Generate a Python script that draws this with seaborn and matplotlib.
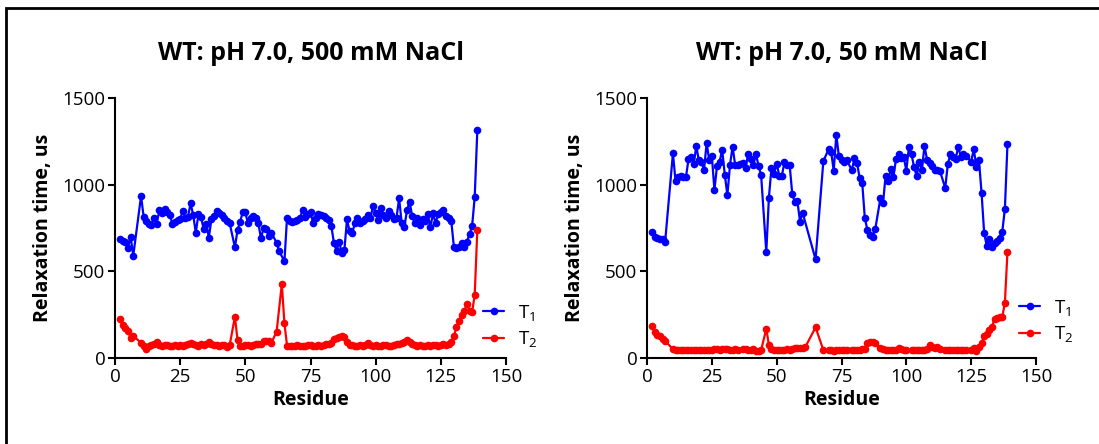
import numpy as np
import pandas as pd
import matplotlib
matplotlib.use("Agg")
import matplotlib.pyplot as plt
from matplotlib.patches import Rectangle
import seaborn as sns

nan = np.nan

# Residue numbers (8 and 9 have no data)
residues = [2, 3, 4, 5, 6, 7] + list(range(10, 140))

# 500 mM NaCl
t1_500 = [687, 677, 670, 636, 700, 590,
          935, 813, 788, 775, 769, 808, 775, 852, 837, 860,
          845, 827, 775, 787, 795, 800, 850, 805, 815, 892,
          825, 723, 830, 815, 742, 775, 695, 800, 820, 850,
          835, 825, 806, 790, 777, nan, 638, 738, 787, 840,
          840, 777, 810, 818, 810, 777, 690, 750, 742, 705,
          723, nan, 665, 616, nan, 558, 810, 790, 785, 790,
          795, 810, 854, 815, 830, 845, 777, 810, 829, 825,
          820, 810, 798, 761, 662, 617, 671, 608, 623, 800,
          730, 720, 777, 808, 777, 790, 800, 823, 810, 877,
          835, 798, 865, 823, 805, 848, 823, 800, 810, 921,
          777, 754, 852, 902, 820, 777, 810, 765, 800, 790,
          829, 754, 835, 777, 831, 840, 856, 818, 810, 791,
          642, 636, 640, 665, 638, 671, 715, 761, 930, 1315]
t2_500 = [223, 191, 175, 156, 113, 127,
          88, 71, 52, 68, 75, 80, 94, 75, 72, 76,
          75, 70, 72, 73, 70, 74, 72, 76, 78, 84,
          80, 76, 72, 78, 74, 82, 92, 78, 74, 76,
          72, 75, 73, 64, 75, nan, 238, 104, 72, 70,
          74, 75, 72, 76, 78, 80, 82, 98, 100, 96,
          88, nan, 152, nan, 427, 200, 72, 68, 70, 72,
          74, 72, 70, 72, 75, 73, 70, 72, 74, 72,
          75, 78, 80, 85, 108, 118, 123, 125, 119, 94,
          76, 74, 72, 70, 74, 72, 75, 84, 76, 72,
          74, 72, 70, 75, 73, 72, 70, 74, 78, 80,
          84, 92, 104, 92, 80, 75, 72, 74, 72, 70,
          74, 72, 75, 73, 72, 74, 78, 75, 81, 95,
          125, 180, 212, 250, 270, 313, 270, 265, 365, 740]

# 50 mM NaCl
t1_50 = [727, 698, 692, 688, 684, 672,
         1181, 1021, 1046, 1048, 1046, 1042, 1146, 1162, 1117, 1223,
         1140, 1130, 1085, 1242, 1140, 1165, 969, 1108, 1133, 1200,
         1056, 940, 1113, 1219, 1113, 1115, 1118, 1127, 1094, 1177,
         1146, 1113, 1177, 1110, 1056, nan, 610, 925, 1098, 1063,
         1121, 1052, 1052, 1129, 1115, 1115, 948, 898, 904, 787,
         838, nan, nan, nan, nan, 569, nan, nan, 1135, nan,
         1204, 1190, 1081, 1288, 1163, 1144, 1131, 1140, nan, 1085,
         1152, 1127, 1037, 1008, 806, 738, 710, 700, 742, nan,
         921, 892, 1050, 1023, 1088, 1042, 1146, 1175, 1152, 1158,
         1081, 1219, 1175, 1100, 1050, 1133, 1085, 1223, 1144, 1125,
         1106, 1085, 1085, 1077, nan, 981, 1119, 1175, 1158, 1146,
         1219, 1161, 1175, 1168, nan, 1133, 1204, 1104, 1142, 954,
         723, 646, 685, 642, 662, 677, 693, 729, 860, 1235]
t2_50 = [185, 148, 135, 127, 110, 100,
         50, 44, 44, 46, 48, 45, 47, 45, 46, 47,
         45, 44, 46, 45, 48, 47, 52, 50, 48, 52,
         53, 52, 46, 48, 50, 49, nan, 52, 50, 48,
         45, 50, 40, 38, 45, nan, 169, 75, 50, 46,
         45, 48, 46, 47, 50, 48, 52, 55, 58, 60,
         58, 62, nan, nan, nan, 177, nan, nan, 46, nan,
         44, 45, 43, 46, 45, 44, 46, 44, nan, 46,
         47, 48, 46, 50, 52, 85, 95, 95, 85, nan,
         56, 50, 48, 46, 47, 45, 48, 58, 50, 46,
         45, nan, 47, 44, 46, 45, 44, 48, 50, 75,
         62, 55, 62, 52, nan, 48, 46, 45, 47, 44,
         46, 45, 47, 44, nan, 46, 56, 42, 62, 85,
         127, 137, 160, 181, 223, 229, 235, 238, 319, 613]

titles = ["WT: pH 7.0, 500 mM NaCl", "WT: pH 7.0, 50 mM NaCl"]
series_labels = ["T$_1$", "T$_2$"]
colors = ["#0000FF", "#FF0000"]
x_ticks = [0, 25, 50, 75, 100, 125, 150]
y_ticks = [0, 500, 1000, 1500]

sns.set_style("ticks")
plt.rcParams["font.family"] = ["Open Sans", "DejaVu Sans"]
plt.rcParams["mathtext.default"] = "regular"
for key in ("text.color", "axes.labelcolor", "xtick.color", "ytick.color"):
    plt.rcParams[key] = "black"


def long_frame(t1, t2):
    frames = []
    for label, vals in zip(series_labels, (t1, t2)):
        frames.append(pd.DataFrame({"Residue": residues, "Time": vals, "Series": label}))
    return pd.concat(frames, ignore_index=True).dropna()


W, H = 1099, 444
fig = plt.figure(figsize=(W / 100, H / 100), dpi=100)

panels = [
    (long_frame(t1_500, t2_500), (115, 506), (0.941, 0.123)),
    (long_frame(t1_50, t2_50), (647, 1036), (0.956, 0.142)),
]

for i, (df, (x0, x1), leg_anchor) in enumerate(panels):
    ax = fig.add_axes([x0 / W, 1 - 358 / H, (x1 - x0) / W, 260 / H])
    sns.lineplot(data=df, x="Residue", y="Time", hue="Series",
                 palette=colors, hue_order=series_labels,
                 marker="o", markersize=5.5, markeredgewidth=0,
                 linewidth=1.6, estimator=None, sort=True, ax=ax)
    ax.set_xlim(0, 150)
    ax.set_ylim(0, 1500)
    ax.set_xticks(x_ticks)
    ax.set_yticks(y_ticks)
    sns.despine(ax=ax)
    for sp in ("left", "bottom"):
        ax.spines[sp].set_linewidth(1.5)
        ax.spines[sp].set_color("black")
    ax.tick_params(axis="both", length=5, width=1.5, color="black",
                   labelcolor="black", labelsize=13.5, pad=2)
    ax.set_xlabel("Residue", fontsize=14, fontweight="bold", labelpad=3)
    ax.set_ylabel("Relaxation time, us", fontsize=14, fontweight="bold", labelpad=7)
    ax.set_title(titles[i], fontsize=18, fontweight="bold", pad=27)
    ax.legend(loc="center left", bbox_to_anchor=leg_anchor, frameon=False,
              fontsize=13.5, handlelength=1.15, handletextpad=0.7,
              labelspacing=0.35, borderpad=0, borderaxespad=0)

# outer frame
fig.add_artist(Rectangle((6 / W, -0.5), 2.0, 0.5 + (1 - 8 / H), fill=False,
                         edgecolor="black", linewidth=2,
                         transform=fig.transFigure))

fig.savefig("out.png", dpi=100)
